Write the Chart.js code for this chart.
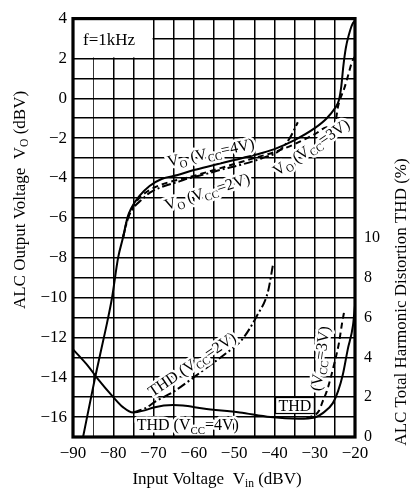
<!DOCTYPE html>
<html lang="en">
<head>
<meta charset="UTF-8">
<title>ALC Output Voltage and THD vs Input Voltage</title>
<script src="https://cdn.jsdelivr.net/npm/chart.js"></script>
<style>
  body { margin: 0; background: #fff; }
  #wrap { width: 414px; height: 491px; }
</style>
</head>
<body>
<div id="wrap"><canvas id="alcChart" width="414" height="491"></canvas></div>
<script>
// Output voltage Vo (dBV) against input voltage Vin (dBV)
const vo4In  = [-87.5, -84.5, -82, -80.3, -78.8, -77.6, -76.5, -75.5, -73.5, -71, -68, -64, -60, -55, -50, -45, -40, -35, -30, -27, -25, -24, -23.4, -22.9, -22.3, -21.5, -20.7, -20];
const vo4Out = [-17, -14, -11.7, -10, -8, -7, -6, -5.5, -4.9, -4.4, -4.05, -3.85, -3.6, -3.35, -3.1, -2.85, -2.55, -2.1, -1.5, -1.0, -0.5, -0.1, 0.6, 1.6, 2.5, 3.2, 3.7, 3.9];

const vo2In  = [-77.6, -76.3, -75, -73, -71, -68, -64, -61, -57, -53.5, -48.6, -43, -38.6, -36.2, -34.2];
const vo2Out = [-7, -6, -5.5, -5.1, -4.75, -4.45, -4.2, -4.0, -3.8, -3.6, -3.35, -3.0, -2.6, -2.0, -1.2];

const vo3In  = [-77.6, -76.4, -75, -73, -70, -66, -61, -55, -50, -45, -40, -35, -30, -27, -25, -24.2, -22.5, -21.5, -20.8, -20];
const vo3Out = [-7, -6, -5.4, -4.9, -4.5, -4.2, -3.95, -3.6, -3.3, -3.0, -2.7, -2.3, -1.8, -1.45, -1.3, -0.4, 0.6, 1.3, 1.8, 2.1];

// Total harmonic distortion (%) against input voltage Vin (dBV)
const thd4In  = [-90, -86, -83.8, -80, -77.6, -75.1, -72, -70, -65.2, -62.7, -57.7, -48.6, -41, -34, -30, -28, -25.5, -24.2, -23, -21.8, -20.5, -20];
const thd4Pct = [4.4, 3.5, 2.9, 2.0, 1.5, 1.23, 1.35, 1.48, 1.6, 1.58, 1.43, 1.23, 1.0, 0.92, 0.98, 1.2, 1.7, 2.3, 3.15, 4.4, 5.6, 6.6];

const thd2In  = [-75.1, -72, -69.4, -65.2, -61, -56, -52, -48, -44.3, -41.6, -40.4];
const thd2Pct = [1.23, 1.45, 1.8, 2.25, 2.85, 3.6, 4.2, 4.9, 6.1, 7.3, 8.6];

const thd3In  = [-32, -29, -28, -27, -26, -25, -24, -23.3, -22.6];
const thd3Pct = [0.95, 1.3, 1.8, 2.3, 3.0, 3.8, 4.7, 5.6, 6.4];

// axis ranges and tick labels
const vinRange = [-90, -20];
const voRange = [-17, 4];
const thdRange = [0, 21];
const vinLabels = [-90, -80, -70, -60, -50, -40, -30, -20];
const voLabels = [4, 2, 0, -2, -4, -6, -8, -10, -12, -14, -16];
const thdLabels = [0, 2, 4, 6, 8, 10];

// curve captions, placed in (Vin, Vo) units
const captions = [
  { text: 'V_{O} (V_{CC}=4V)', x: -55.8, y: -2.72, rot: -12 },
  { text: 'V_{O} (V_{CC}=2V)', x: -56.7, y: -4.68, rot: -18 },
  { text: 'V_{O} (V_{CC}=3V)', x: -30.9, y: -2.46, rot: -34 },
  { text: 'THD (V_{CC}=2V)', x: -60.5, y: -13.35, rot: -34 },
  { text: 'THD (V_{CC}=4V)', x: -61.5, y: -16.4, rot: 0 },
  { text: '(V_{CC}=3V)', x: -28.7, y: -13.06, rot: -82 },
  { text: 'THD', x: -34.9, y: -15.42, rot: 0, boxed: true }
];

const FONT = '"Liberation Serif", "DejaVu Serif", serif';

function pairs(xs, ys) {
  return xs.map((x, i) => ({ x: x, y: ys[i] }));
}

function minusLabel(v) {
  return v < 0 ? '\u2212' + Math.abs(v) : String(v);
}

// split "V_{O}" style strings into normal / subscript runs
function parseRich(str) {
  return str.split(/_\{([^}]*)\}/).map((t, i) => ({ t: t, sub: i % 2 === 1 })).filter(p => p.t);
}

function drawRich(ctx, str, x, y, size, rot, halo) {
  const parts = parseRich(str);
  const subSize = size * 0.68;
  let w = 0;
  parts.forEach(p => {
    ctx.font = (p.sub ? subSize : size) + 'px ' + FONT;
    p.w = ctx.measureText(p.t).width;
    w += p.w;
  });
  ctx.save();
  ctx.translate(x, y);
  ctx.rotate(rot * Math.PI / 180);
  ctx.textBaseline = 'alphabetic';
  ctx.textAlign = 'left';
  const base = size * 0.33;
  const passes = halo ? ['halo', 'fill'] : ['fill'];
  passes.forEach(pass => {
    let cx = -w / 2;
    parts.forEach(p => {
      ctx.font = (p.sub ? subSize : size) + 'px ' + FONT;
      const py = p.sub ? base + size * 0.22 : base;
      if (pass === 'halo') {
        ctx.strokeStyle = '#fff';
        ctx.lineWidth = 5;
        ctx.lineJoin = 'round';
        ctx.strokeText(p.t, cx, py);
      } else {
        ctx.fillStyle = '#000';
        ctx.fillText(p.t, cx, py);
      }
      cx += p.w;
    });
  });
  ctx.restore();
  return w;
}

const decorPlugin = {
  id: 'decor',
  beforeDatasetsDraw(chart) {
    // blank panel in the top-left cell for the frequency note
    const { ctx, chartArea, scales } = chart;
    const x1 = scales.x.getPixelForValue(-70);
    const y1 = scales.y.getPixelForValue(2);
    ctx.save();
    ctx.fillStyle = '#fff';
    ctx.fillRect(chartArea.left, chartArea.top, x1 - chartArea.left - 1, y1 - chartArea.top - 1);
    ctx.restore();
  },
  afterDatasetsDraw(chart) {
    const { ctx, chartArea, scales } = chart;
    const sx = scales.x, sy = scales.y;

    ctx.save();
    ctx.font = '17px ' + FONT;
    ctx.fillStyle = '#000';
    ctx.textBaseline = 'middle';
    ctx.fillText('f=1kHz', sx.getPixelForValue(-87.5), sy.getPixelForValue(2.92));
    ctx.restore();

    captions.forEach(c => {
      const px = sx.getPixelForValue(c.x);
      const py = sy.getPixelForValue(c.y);
      if (c.boxed) {
        ctx.save();
        ctx.font = '16px ' + FONT;
        const w = ctx.measureText(c.text).width;
        ctx.fillStyle = '#fff';
        ctx.strokeStyle = '#000';
        ctx.lineWidth = 1.2;
        ctx.fillRect(px - w / 2 - 3, py - 8, w + 6, 16);
        ctx.strokeRect(px - w / 2 - 3, py - 8, w + 6, 16);
        ctx.restore();
        drawRich(ctx, c.text, px, py, 16, 0, false);
      } else {
        drawRich(ctx, c.text, px, py, 16, c.rot, true);
      }
    });

    // heavy frame round the plot
    ctx.save();
    ctx.strokeStyle = '#000';
    ctx.lineWidth = 3.2;
    ctx.strokeRect(chartArea.left, chartArea.top, chartArea.right - chartArea.left, chartArea.bottom - chartArea.top);
    ctx.restore();

    // axis titles
    drawRich(ctx, 'ALC Output Voltage  V_{O} (dBV)', 19, 200, 17, -90, false);
    drawRich(ctx, 'ALC Total Harmonic Distortion THD (%)', 400, 302, 17, -90, false);
    drawRich(ctx, 'Input Voltage  V_{in} (dBV)', 217, 478, 17, 0, false);
  }
};

const gridStyle = {
  color: '#000',
  lineWidth: ctx => (ctx.tick && ctx.tick.value === -85 ? 0.8 : 1.5),
  drawTicks: false
};

new Chart(document.getElementById('alcChart'), {
  type: 'line',
  data: {
    datasets: [
      { label: 'Vo (Vcc=4V)', data: pairs(vo4In, vo4Out), yAxisID: 'y', borderColor: '#000', borderWidth: 2, borderDash: [] },
      { label: 'Vo (Vcc=2V)', data: pairs(vo2In, vo2Out), yAxisID: 'y', borderColor: '#000', borderWidth: 2, borderDash: [9, 3, 2, 3] },
      { label: 'Vo (Vcc=3V)', data: pairs(vo3In, vo3Out), yAxisID: 'y', borderColor: '#000', borderWidth: 2, borderDash: [6, 4] },
      { label: 'THD (Vcc=4V)', data: pairs(thd4In, thd4Pct), yAxisID: 'y2', borderColor: '#000', borderWidth: 2, borderDash: [] },
      { label: 'THD (Vcc=2V)', data: pairs(thd2In, thd2Pct), yAxisID: 'y2', borderColor: '#000', borderWidth: 2, borderDash: [9, 3, 2, 3] },
      { label: 'THD (Vcc=3V)', data: pairs(thd3In, thd3Pct), yAxisID: 'y2', borderColor: '#000', borderWidth: 2, borderDash: [6, 4] }
    ]
  },
  options: {
    responsive: false,
    animation: false,
    layout: { padding: { top: 11, left: 0, right: 0, bottom: 0 } },
    elements: {
      point: { radius: 0 },
      line: { cubicInterpolationMode: 'monotone', fill: false }
    },
    plugins: {
      legend: { display: false },
      tooltip: { enabled: false }
    },
    scales: {
      x: {
        type: 'linear',
        min: vinRange[0],
        max: vinRange[1],
        grid: gridStyle,
        border: { display: false },
        ticks: {
          stepSize: 5,
          padding: 6,
          color: '#000',
          font: { family: FONT, size: 17 },
          maxRotation: 0,
          autoSkip: false,
          callback: v => (vinLabels.includes(v) ? minusLabel(v) : '')
        },
        afterFit: s => { s.height = 54; }
      },
      y: {
        position: 'left',
        min: voRange[0],
        max: voRange[1],
        grid: gridStyle,
        border: { display: false },
        ticks: {
          stepSize: 1,
          padding: 6,
          color: '#000',
          font: { family: FONT, size: 17 },
          autoSkip: false,
          callback: v => (voLabels.includes(v) ? minusLabel(v) : '')
        },
        afterFit: s => { s.width = 73; }
      },
      y2: {
        position: 'right',
        min: thdRange[0],
        max: thdRange[1],
        grid: { drawOnChartArea: false, drawTicks: false },
        border: { display: false },
        ticks: {
          stepSize: 1,
          padding: 9,
          color: '#000',
          font: { family: FONT, size: 16 },
          autoSkip: false,
          callback: v => (thdLabels.includes(v) ? String(v) : '')
        },
        afterFit: s => { s.width = 59; }
      }
    }
  },
  plugins: [decorPlugin]
});
</script>
</body>
</html>
